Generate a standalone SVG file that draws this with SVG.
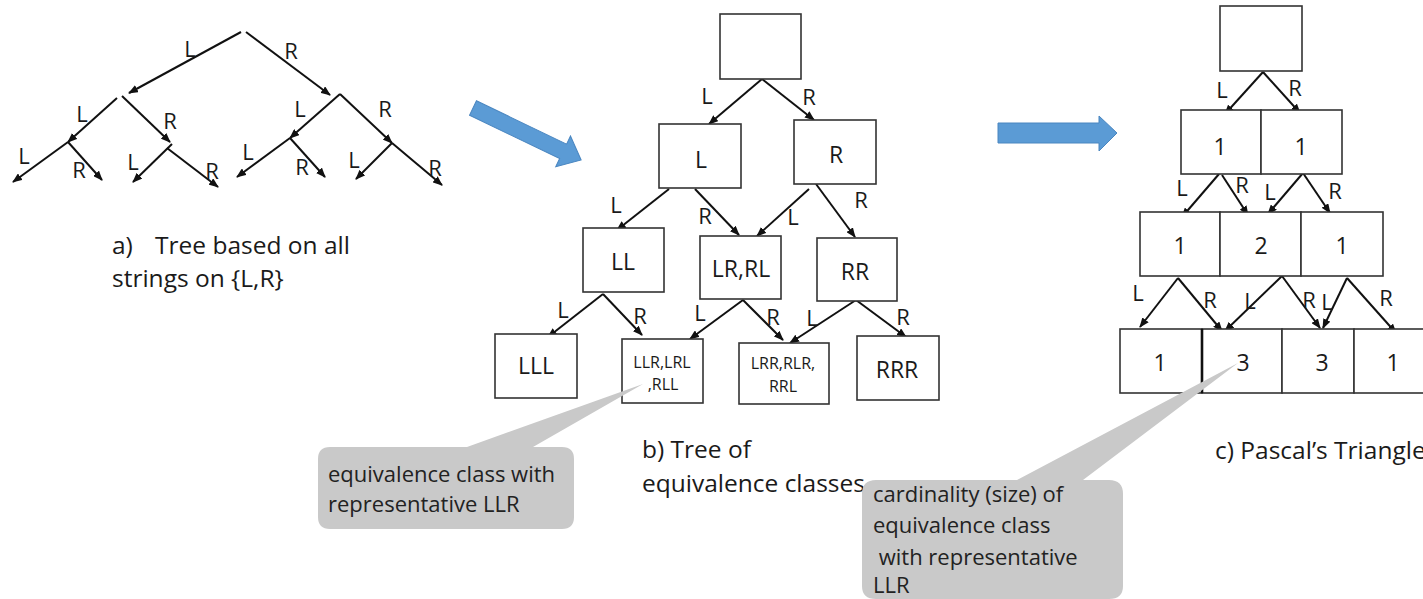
<svg xmlns="http://www.w3.org/2000/svg" width="1423" height="599" viewBox="0 0 1423 599">
  <style>
    text { font-family: "Open Sans", "Liberation Sans", sans-serif; fill: #1a1a1a; }
    .lbl { font-size: 22px; text-anchor: middle; }
    .nt { font-size: 23px; text-anchor: middle; }
    .ns { font-size: 16px; text-anchor: middle; }
    .cap { font-size: 24.5px; }
    .note { font-size: 22px; fill: #222; }
    .box { fill: #fff; stroke: #333; stroke-width: 1.6; }
    .edge { stroke: #111; stroke-width: 2; fill: none; marker-end: url(#head); }
    .blue { fill: #5B9BD5; stroke: #4A86C0; stroke-width: 1; }
    .callout { fill: #C9C9C9; stroke: none; }
  </style>
  <defs>
    <marker id="head" markerUnits="userSpaceOnUse" markerWidth="10" markerHeight="8" refX="9" refY="4" orient="auto">
      <path d="M0,0 L10,4 L0,8 z" fill="#111"/>
    </marker>
  </defs>

  <rect width="1423" height="599" fill="#fff"/>

  <!-- a) full binary tree of all strings -->
  <g id="tree-a">
    <line class="edge" x1="241" y1="32" x2="129" y2="93"/>
    <line class="edge" x1="246" y1="32" x2="330" y2="95"/>
    <line class="edge" x1="117" y1="98" x2="68" y2="142"/>
    <line class="edge" x1="68" y1="142" x2="13" y2="182"/>
    <line class="edge" x1="68" y1="142" x2="102" y2="180"/>
    <line class="edge" x1="122" y1="96" x2="170" y2="142"/>
    <line class="edge" x1="172" y1="144" x2="133" y2="182"/>
    <line class="edge" x1="167" y1="148" x2="218" y2="187"/>
    <line class="edge" x1="340" y1="94" x2="290" y2="138"/>
    <line class="edge" x1="340" y1="94" x2="392" y2="143"/>
    <line class="edge" x1="290" y1="138" x2="237" y2="177"/>
    <line class="edge" x1="290" y1="138" x2="325" y2="177"/>
    <line class="edge" x1="392" y1="143" x2="356" y2="179"/>
    <line class="edge" x1="392" y1="143" x2="442" y2="185"/>
    <text class="lbl" x="190" y="57">L</text>
    <text class="lbl" x="291" y="59">R</text>
    <text class="lbl" x="82" y="122">L</text>
    <text class="lbl" x="170" y="129">R</text>
    <text class="lbl" x="300" y="117">L</text>
    <text class="lbl" x="385" y="117">R</text>
    <text class="lbl" x="24" y="164">L</text>
    <text class="lbl" x="79" y="178">R</text>
    <text class="lbl" x="133" y="170">L</text>
    <text class="lbl" x="212" y="179">R</text>
    <text class="lbl" x="248" y="160">L</text>
    <text class="lbl" x="302" y="175">R</text>
    <text class="lbl" x="354" y="168">L</text>
    <text class="lbl" x="435" y="176">R</text>
  </g>
  <g id="caption-a">
    <text class="cap" x="112" y="254">a)</text>
    <text class="cap" x="155" y="254">Tree based on all</text>
    <text class="cap" x="112" y="287">strings on {L,R}</text>
  </g>

  <!-- transition arrows -->
  <g id="arrow-ab">
    <polygon class="blue" transform="translate(473,108) rotate(25.7)" points="0,-8 100,-8 100,-17 120,0 100,17 100,8 0,8"/>
  </g>
  <g id="arrow-bc">
    <polygon class="blue" points="998,123 1099,123 1099,116 1117,133 1099,151 1099,143 998,143"/>
  </g>

  <!-- b) tree of equivalence classes -->
  <g id="connectors">
    <line class="edge" x1="762" y1="79" x2="709" y2="124"/>
    <line class="edge" x1="762" y1="79" x2="814" y2="120"/>
    <line class="edge" x1="669" y1="189" x2="617" y2="230"/>
    <line class="edge" x1="695" y1="189" x2="739" y2="235"/>
    <line class="edge" x1="809" y1="189" x2="757" y2="236"/>
    <line class="edge" x1="816" y1="184" x2="855" y2="237"/>
    <line class="edge" x1="603" y1="294" x2="548" y2="337"/>
    <line class="edge" x1="603" y1="294" x2="642" y2="335"/>
    <line class="edge" x1="743" y1="300" x2="690" y2="339"/>
    <line class="edge" x1="743" y1="300" x2="783" y2="340"/>
    <line class="edge" x1="856" y1="300" x2="790" y2="343"/>
    <line class="edge" x1="856" y1="300" x2="906" y2="337"/>
    <text class="lbl" x="707" y="104">L</text>
    <text class="lbl" x="809" y="105">R</text>
    <text class="lbl" x="616" y="213">L</text>
    <text class="lbl" x="705" y="224">R</text>
    <text class="lbl" x="793" y="225">L</text>
    <text class="lbl" x="861" y="208">R</text>
    <text class="lbl" x="563" y="318">L</text>
    <text class="lbl" x="640" y="324">R</text>
    <text class="lbl" x="700" y="321">L</text>
    <text class="lbl" x="773" y="325">R</text>
    <text class="lbl" x="812" y="326">L</text>
    <text class="lbl" x="903" y="325">R</text>

    <!-- c) Pascal connectors -->
    <line class="edge" x1="1263" y1="72" x2="1225" y2="114"/>
    <line class="edge" x1="1263" y1="72" x2="1300" y2="113"/>
    <line class="edge" x1="1219" y1="174" x2="1182" y2="217"/>
    <line class="edge" x1="1222" y1="175" x2="1248" y2="215"/>
    <line class="edge" x1="1303" y1="173" x2="1268" y2="214"/>
    <line class="edge" x1="1303" y1="173" x2="1330" y2="213"/>
    <line class="edge" x1="1178" y1="278" x2="1140" y2="327"/>
    <line class="edge" x1="1178" y1="278" x2="1222" y2="331"/>
    <line class="edge" x1="1282" y1="276" x2="1225" y2="331"/>
    <line class="edge" x1="1282" y1="276" x2="1320" y2="328"/>
    <line class="edge" x1="1347" y1="278" x2="1323" y2="328"/>
    <line class="edge" x1="1347" y1="278" x2="1396" y2="333"/>
    <text class="lbl" x="1222" y="98">L</text>
    <text class="lbl" x="1295" y="96">R</text>
    <text class="lbl" x="1182" y="196">L</text>
    <text class="lbl" x="1242" y="193">R</text>
    <text class="lbl" x="1270" y="200">L</text>
    <text class="lbl" x="1335" y="199">R</text>
    <text class="lbl" x="1138" y="301">L</text>
    <text class="lbl" x="1210" y="308">R</text>
    <text class="lbl" x="1250" y="309">L</text>
    <text class="lbl" x="1309" y="308">R</text>
    <text class="lbl" x="1327" y="310">L</text>
    <text class="lbl" x="1386" y="306">R</text>
  </g>

  <g id="b-root"><rect class="box" x="720" y="14" width="81" height="65"/></g>
  <g id="b-L"><rect class="box" x="659" y="124" width="82" height="64"/><text class="nt" x="701" y="168">L</text></g>
  <g id="b-R"><rect class="box" x="794" y="120" width="82" height="64"/><text class="nt" x="836" y="163">R</text></g>
  <g id="b-LL"><rect class="box" x="583" y="228" width="81" height="64"/><text class="nt" x="623" y="270">LL</text></g>
  <g id="b-LR"><rect class="box" x="700" y="236" width="81" height="63"/><text class="nt" x="741" y="277">LR,RL</text></g>
  <g id="b-RR"><rect class="box" x="817" y="238" width="80" height="63"/><text class="nt" x="855" y="280">RR</text></g>
  <g id="b-LLL"><rect class="box" x="495" y="334" width="82" height="64"/><text class="nt" x="536" y="374">LLL</text></g>
  <g id="b-LLR"><rect class="box" x="622" y="339" width="81" height="64"/><text class="ns" x="662" y="368">LLR,LRL</text><text class="ns" x="663" y="390">,RLL</text></g>
  <g id="b-LRR"><rect class="box" x="739" y="343" width="90" height="61"/><text class="ns" x="783" y="369">LRR,RLR,</text><text class="ns" x="783" y="392">RRL</text></g>
  <g id="b-RRR"><rect class="box" x="857" y="336" width="82" height="64"/><text class="nt" x="897" y="378">RRR</text></g>

  <g id="caption-b">
    <text class="cap" x="642" y="458">b) Tree of</text>
    <text class="cap" x="642" y="492">equivalence classes</text>
  </g>

  <!-- c) Pascal's triangle -->
  <g id="c-root"><rect class="box" x="1220" y="6" width="82" height="65"/></g>
  <g id="c-r1">
    <rect class="box" x="1181" y="110" width="80" height="64"/><text class="nt" x="1220" y="155">1</text>
    <rect class="box" x="1261" y="110" width="81" height="64"/><text class="nt" x="1301" y="155">1</text>
  </g>
  <g id="c-r2">
    <rect class="box" x="1140" y="212" width="80" height="64"/><text class="nt" x="1180" y="254">1</text>
    <rect class="box" x="1220" y="212" width="81" height="64"/><text class="nt" x="1261" y="254">2</text>
    <rect class="box" x="1301" y="212" width="82" height="64"/><text class="nt" x="1342" y="254">1</text>
  </g>
  <g id="c-r3">
    <rect class="box" x="1120" y="329" width="82" height="64"/><text class="nt" x="1160" y="371">1</text>
    <rect class="box" x="1202" y="329" width="80" height="64"/><text class="nt" x="1243" y="371">3</text>
    <rect class="box" x="1282" y="329" width="72" height="64"/><text class="nt" x="1322" y="371">3</text>
    <rect class="box" x="1354" y="329" width="82" height="64"/><text class="nt" x="1393" y="371">1</text>
    <line x1="1202" y1="329" x2="1202" y2="393" stroke="#111" stroke-width="2.6"/>
  </g>
  <g id="caption-c">
    <text class="cap" x="1215" y="459">c) Pascal’s Triangle</text>
  </g>

  <!-- callouts -->
  <g id="callout-class">
    <path class="callout" d="M330,447 L467,447 L643,384 L533,447 L562,447 Q574,447 574,459 L574,517 Q574,529 562,529 L330,529 Q318,529 318,517 L318,459 Q318,447 330,447 Z"/>
    <text class="note" x="328" y="482">equivalence class with</text>
    <text class="note" x="328" y="512">representative LLR</text>
  </g>
  <g id="callout-size">
    <path class="callout" d="M876,480 L1017,480 L1238,363 L1083,480 L1109,480 Q1123,480 1123,494 L1123,586 Q1123,599 1109,599 L876,599 Q862,599 862,586 L862,494 Q862,480 876,480 Z"/>
    <text class="note" x="873" y="502">cardinality (size) of</text>
    <text class="note" x="873" y="533">equivalence class</text>
    <text class="note" x="873" y="565" xml:space="preserve"> with representative</text>
    <text class="note" x="873" y="593">LLR</text>
  </g>
</svg>
